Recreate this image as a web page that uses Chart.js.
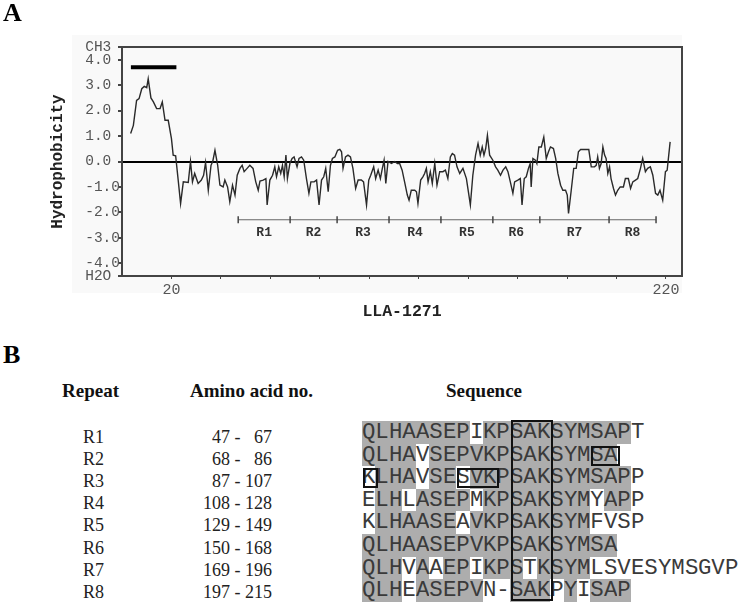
<!DOCTYPE html>
<html>
<head>
<meta charset="utf-8">
<script src="https://cdn.jsdelivr.net/npm/chart.js@4.4.1/dist/chart.umd.min.js"></script>
<style>
  html, body { margin: 0; padding: 0; background: #fff; }
  #page { position: relative; width: 744px; height: 603px; overflow: hidden; font-family: 'Liberation Serif', 'Times New Roman', serif; color: #222; }
  #chartBox { position: absolute; left: 0; top: 0; width: 744px; height: 330px; }
  .panel { position: absolute; font-weight: bold; font-size: 26px; line-height: 26px; color: #000; }
  .head { position: absolute; font-weight: bold; font-size: 19px; line-height: 19px; color: #111; white-space: pre; }
  .cell { position: absolute; font-size: 18px; line-height: 18px; white-space: pre; color: #222; }
  .aa { position: absolute; height: 23px; font-family: 'Liberation Mono', monospace; font-size: 22.4px; color: #3a3a3a; text-align: center; }
  .box { position: absolute; box-sizing: border-box; border: 2px solid #111; }
</style>
</head>
<body>
<div id="page">
  <div id="chartBox"><canvas id="hydroChart" width="744" height="330"></canvas></div>
  <div class="panel" style="left:3px; top:0px;">A</div>
  <div class="panel" style="left:3px; top:342px;">B</div>
  <div id="tableB"></div>
</div>
<script>
// hydrophobicity profile (residue position, value)
const residues = [
  3.5, 4.6, 5.9, 6.9, 8, 9, 10, 10.6, 11.7, 12.7, 14, 15.4, 16.3, 17.4, 18.7, 20, 20.7, 21.7, 22.8, 23.7,
  24.8, 26.8, 27.7, 28.5, 29.4, 30.8, 32.1, 33, 33.8, 34.9, 36, 36.7, 37.6, 38.7, 39.6, 40.9, 41.6, 42.7, 43.6, 44.7,
  45.7, 46.6, 47.7, 48.6, 49.4, 50.6, 51.7, 53, 54.1, 55.1, 55.8, 57.1, 58.2, 58.7, 59.8, 60.9, 61.8, 62.5, 63.4, 64.2,
  64.9, 65.6, 66.3, 66.9, 67.9, 68.8, 69.6, 70.8, 71.6, 72.6, 73.5, 74.6, 75.6, 76.4, 77.7, 78.7, 79.7, 80.7, 81.6, 82.4,
  83.4, 84.3, 85.1, 86.1, 87.2, 88.1, 88.8, 89.4, 90.4, 91.4, 92.4, 93.4, 94.5, 95.5, 96.8, 97.7, 98.9, 99.8, 100.6, 101.8,
  102.6, 103.6, 104.5, 105.3, 106, 106.7, 107.6, 109, 110.3, 111.4, 112.3, 113.3, 114.3, 115.4, 116.1, 117, 118.4, 119.1, 119.7, 120.8,
  121.7, 122.4, 123.1, 123.8, 124.7, 125.5, 126.5, 127.4, 128.5, 129.8, 130.8, 131.8, 132.8, 133.6, 134.5, 135.5, 136.6, 137.9, 139.3, 140.2,
  140.9, 141.9, 143, 144, 144.9, 145.7, 146.4, 147.1, 147.8, 148.7, 150, 151.1, 152, 153.1, 154.1, 155.2, 156.1, 157.2, 158.1, 158.8,
  160.1, 161.1, 161.8, 162.7, 163.5, 164.4, 165.1, 165.5, 166.2, 167.2, 167.8, 168.6, 169.6, 170.6, 171.6, 172.5, 173.3, 174.5, 175.4, 176.3,
  177.4, 178.3, 179.4, 180.1, 180.6, 181.7, 182.7, 183.7, 184.6, 185.5, 187.1, 188.8, 189.8, 191.1, 191.8, 192.4, 193.1, 193.8, 194.5, 195.2,
  195.8, 196.5, 197.2, 197.8, 198.8, 199.6, 200.5, 201.5, 202.8, 203.6, 204.8, 205.7, 206.6, 207.7, 208.6, 209.7, 210.6, 211.7, 212.6, 213.7,
  214.7, 215.8, 216.7, 217.6, 218.7, 219.8, 220.5, 221.7
];
const hydro = [
  1.1, 1.42, 2.4, 2.47, 2.86, 2.95, 2.9, 3.25, 2.5, 2.34, 2.08, 2.08, 2.34, 1.62, 1.62, 0.9, 0.25, 0.22, -0.8, -1.65,
  -0.8, -0.82, 0, -0.8, -0.47, -0.86, -0.73, -0.54, -0.04, -1.13, -0.15, 0, 0.44, -0.15, -0.93, -1.0, -0.73, -1.0, -1.58, -0.93,
  -1.32, -0.54, -0.27, -0.15, -0.4, -0.27, -0.15, -0.27, -0.8, -1.13, -0.77, -0.73, -0.67, -1.71, -0.73, -0.54, -0.21, -0.6, -0.21, -0.47,
  -0.15, -0.6, 0.25, -0.67, -0.08, 0.12, 0.18, -0.21, 0.12, 0.18, 0.05, -0.67, -1.25, -0.8, -0.8, -0.73, -1.71, -0.73, -0.6, -0.27,
  -1.19, -0.15, 0.12, 0.18, 0.44, 0.48, 0.38, -0.27, 0.18, 0.25, 0.18, -0.27, -1.06, -0.73, -0.73, -0.8, -1.71, -0.73, -0.54, -0.21,
  -0.67, -0.34, -0.67, -0.27, 0.05, -0.86, 0, -0.08, 0, -0.08, -0.08, -0.34, -0.8, -1.32, -1.52, -1.13, -1.13, -1.19, -1.65, -0.73,
  -0.6, -0.47, -0.27, -0.8, -0.4, -0.86, -0.08, -0.93, -0.4, -0.4, -0.34, -0.67, 0.18, 0.31, 0.25, -0.21, -0.47, -0.27, -0.67, -1.25,
  -1.71, -0.54, 0.25, 0.71, 0.25, 0.57, 0.25, 0.51, 1.03, 0.25, 0.05, -0.21, -0.34, -0.54, -0.34, -0.21, -0.4, -0.86, -1.25, -0.8,
  -0.73, -0.67, -1.71, -0.67, -0.6, -0.27, -0.08, -1.0, 0.12, 0.05, -0.08, 0.57, 0.57, 0.96, 0.12, 0.38, 0.57, 0.51, 0.12, -0.47,
  -0.93, -1.13, -1.13, -1.32, -2.04, -1.13, -0.27, -0.27, 0.38, 0.47, 0.47, 0.47, -0.21, -0.21, -0.15, 0.18, -0.27, -0.08, 0.57, 0.25,
  0.12, -0.47, -0.21, -0.67, -1.06, -1.32, -1.13, -1.0, -1.0, -0.67, -0.67, -1.06, -0.8, -0.73, -0.67, -0.27, 0.12, -0.4, -0.27, -0.21,
  -0.54, -1.25, -1.32, -1.13, -1.52, -0.4, -0.34, 0.77
];

// signal peptide bar and repeat boundaries
const signalSpan = [3.6, 22];
const signalLevel = 3.7;
const repeatBounds = [47, 68, 87, 108, 129, 150, 169, 197, 216];
const repeatLevel = -2.29;
const repeatLabelLevel = -2.81;
const repeatNames = ['R1', 'R2', 'R3', 'R4', 'R5', 'R6', 'R7', 'R8'];

// axis ticks
const yTickValues = [-4.5, -4, -3, -2, -1, 0, 1, 2, 3, 4, 4.5];
const xTickValues = [20, 40, 60, 80, 100, 120, 140, 160, 180, 200, 220];
const xLabelled = [20, 220];

// panel B table
const aaRanges = ['47 -   67', '68 -   86', '87 - 107', '108 - 128', '129 - 149', '150 - 168', '169 - 196', '197 - 215'];
const sequences = [
  'QLHAASEPIKPSAKSYMSAPT',
  'QLHAVSEPVKPSAKSYMSA',
  'KLHAVSESVKPSAKSYMSAPP',
  'ELHLASEPMKPSAKSYMYAPP',
  'KLHAASEAVKPSAKSYMFVSP',
  'QLHAASEPVKPSAKSYMSA',
  'QLHVAAEPIKPSTKSYMLSVESYMSGVP',
  'QLHEASEPVN-SAKPYISAP'
];
// positions left without grey shading
const unshaded = [
  [8, 20],
  [4],
  [0, 4, 7, 20],
  [0, 3, 8, 17, 20],
  [0, 7, 17, 18, 19, 20],
  [],
  [3, 5, 8, 12, 17, 18, 19, 20, 21, 22, 23, 24, 25, 26, 27],
  [3, 9, 10, 14, 16]
];
// boxed residues: [row, first position, count]
const boxed = [[1, 17, 2], [2, 0, 1], [2, 7, 3]];

const monoFont = 'Liberation Mono';

const extras = {
  id: 'extras',
  beforeDraw(chart) {
    const c = chart.ctx;
    c.save();
    c.fillStyle = '#f9f9f9';
    c.fillRect(72, 35, 610, 258);
    c.restore();
  },
  afterDraw(chart) {
    const c = chart.ctx;
    const a = chart.chartArea;
    const xs = chart.scales.x, ys = chart.scales.y;
    c.save();
    c.strokeStyle = '#444';
    c.lineWidth = 2;
    c.strokeRect(a.left, a.top, a.right - a.left, a.bottom - a.top);
    c.fillStyle = '#333';
    c.font = 'bold 13px ' + monoFont;
    c.textAlign = 'center';
    c.textBaseline = 'middle';
    repeatNames.forEach((name, i) => {
      const mid = (repeatBounds[i] + repeatBounds[i + 1]) / 2;
      c.fillText(name, xs.getPixelForValue(mid), ys.getPixelForValue(repeatLabelLevel));
    });
    c.restore();
  }
};

new Chart(document.getElementById('hydroChart'), {
  type: 'line',
  data: {
    datasets: [
      {
        data: residues.map((r, i) => ({ x: r, y: hydro[i] })),
        borderColor: '#2a2a2a',
        borderWidth: 1.4,
        pointRadius: 0,
        tension: 0
      },
      {
        data: signalSpan.map(x => ({ x: x, y: signalLevel })),
        borderColor: '#000',
        borderWidth: 4,
        pointRadius: 0
      },
      {
        data: repeatBounds.map(x => ({ x: x, y: repeatLevel })),
        borderColor: '#666',
        borderWidth: 1.2,
        pointStyle: 'line',
        pointRotation: 90,
        pointRadius: 3.5,
        pointBorderWidth: 1.5,
        pointBorderColor: '#444'
      }
    ]
  },
  options: {
    responsive: false,
    animation: false,
    layout: { padding: { top: 47, right: 62, left: 0, bottom: 0 } },
    plugins: { legend: { display: false }, tooltip: { enabled: false } },
    scales: {
      x: {
        type: 'linear',
        min: 0,
        max: 226.5,
        afterBuildTicks: s => { s.ticks = xTickValues.map(v => ({ value: v })); },
        afterFit: s => { s.height = 54; },
        grid: { drawOnChartArea: false, tickLength: 3, tickColor: '#444' },
        border: { color: '#444', width: 2 },
        ticks: {
          autoSkip: false,
          maxRotation: 0,
          padding: 2,
          color: '#555',
          font: { family: monoFont, size: 15 },
          callback: v => xLabelled.includes(v) ? String(v) : ''
        },
        title: {
          display: true,
          text: 'LLA-1271',
          color: '#222',
          font: { family: monoFont, size: 16.5, weight: 'bold' },
          padding: { top: 0, bottom: 8 }
        }
      },
      y: {
        min: -4.5,
        max: 4.5,
        afterBuildTicks: s => { s.ticks = yTickValues.map(v => ({ value: v })); },
        afterFit: s => { s.width = 122; },
        grid: {
          color: c => c.tick && c.tick.value === 0 ? '#000' : 'rgba(0,0,0,0)',
          lineWidth: 2,
          tickLength: 4,
          tickColor: '#444'
        },
        border: { color: '#444', width: 2 },
        ticks: {
          autoSkip: false,
          padding: -2,
          color: '#555',
          font: { family: monoFont, size: 14.5 },
          callback: v => {
            if (v === 4.5) return 'CH3 ';
            if (v === -4.5) return 'H2O ';
            return v < 0 ? v.toFixed(1) : v.toFixed(1) + ' ';
          }
        },
        title: {
          display: true,
          text: 'Hydrophobicity',
          color: '#222',
          font: { family: monoFont, size: 16, weight: 'bold' },
          padding: { top: 48, bottom: 0 }
        }
      }
    }
  },
  plugins: [extras]
});

// ---- panel B ----
const tableB = document.getElementById('tableB');
function addDiv(cls, text, style) {
  const d = document.createElement('div');
  d.className = cls;
  if (text !== null) d.textContent = text;
  Object.assign(d.style, style);
  tableB.appendChild(d);
  return d;
}

addDiv('head', 'Repeat', { left: '62px', top: '381px' });
addDiv('head', 'Amino acid no.', { left: '190px', top: '381px' });
addDiv('head', 'Sequence', { left: '446px', top: '381px' });

const labelTop0 = 428, labelStep = 22.1;
repeatNames.forEach((name, i) => {
  const top = (labelTop0 + i * labelStep) + 'px';
  addDiv('cell', name, { left: '83px', top: top });
  addDiv('cell', aaRanges[i], { left: '150px', width: '122px', textAlign: 'right', top: top });
});

const seqLeft = 362, charW = 13.44, seqTop0 = 421, seqStep = 22.6;
const rowTop = i => Math.round(seqTop0 + i * seqStep);
const colLeft = j => seqLeft + Math.round(j * charW);

sequences.forEach((seq, i) => {
  const top = rowTop(i), h = rowTop(i + 1) - top;
  [...seq].forEach((ch, j) => {
    const left = colLeft(j), w = colLeft(j + 1) - left;
    addDiv('aa', ch, {
      left: left + 'px', top: top + 'px', width: w + 'px', height: h + 'px', lineHeight: h + 'px',
      background: unshaded[i].includes(j) ? 'transparent' : '#adadad'
    });
  });
});

boxed.forEach(([row, start, n]) => {
  const left = colLeft(start) + 1;
  addDiv('box', null, {
    left: left + 'px', top: (rowTop(row) + 2) + 'px',
    width: (colLeft(start + n) - colLeft(start) + 2) + 'px', height: '20px'
  });
});
// conserved SAK column
addDiv('box', null, {
  left: (colLeft(11) + 1) + 'px', top: (rowTop(0) - 1) + 'px',
  width: (colLeft(14) - colLeft(11) + 2) + 'px', height: (rowTop(8) - rowTop(0)) + 'px'
});
</script>
</body>
</html>
